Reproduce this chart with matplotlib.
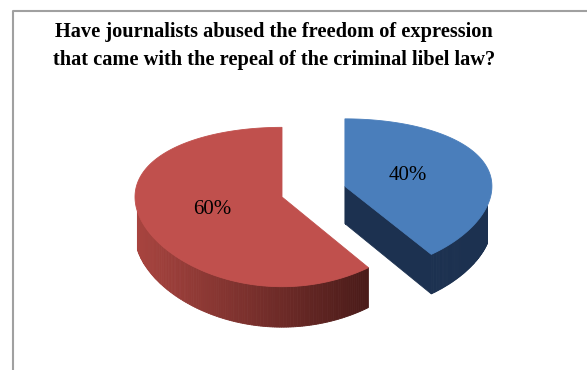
import numpy as np
import matplotlib.pyplot as plt
from matplotlib.patches import Polygon
from matplotlib.colors import to_rgb

# survey answers (share of respondents, %)
values = [40, 60]
top_colors = ['#4a7ebb', '#c0504d']
side_light = ['#1c3150', '#a8443f']
side_dark = ['#1c3150', '#4a1b19']
cut_colors = ['#1c3150', '#8e3835']
explode = [0.45, 0.0]
label_radius = [0.45, 0.5]

title_lines = [
    'Have journalists abused the freedom of expression',
    'that came with the repeal of the criminal libel law?',
]

W, H = 587, 370
fig = plt.figure(figsize=(W / 100, H / 100), dpi=100)
ax = fig.add_axes([0, 0, 1, 1])
ax.set_xlim(0, W)
ax.set_ylim(H, 0)
ax.axis('off')

# chart area border (left and top edges)
ax.plot([13, 13, W], [H, 11, 11], color='#a0a0a0', lw=1.5, solid_capstyle='butt')

# camera for the 3-D pie: perspective applied to the vertical axis only
R = 147.0
phi = np.radians(33.5)
D = 6.8
h = 0.30
cx, apex_y = 282.0, 197.0
y0 = apex_y + R * h * np.cos(phi) * D / (D - h * np.sin(phi))
cam = np.array([0.0, D * np.sin(phi), D * np.cos(phi)])


def project(p):
    x, y, z = p
    up = y * np.cos(phi) - z * np.sin(phi)
    w = y * np.sin(phi) + z * np.cos(phi)
    s = D / (D - w)
    return cx + R * x, y0 - R * up * s


def rim(t, y, off):
    t = np.radians(t)
    return off + np.array([np.sin(t), y, -np.cos(t)])


def depth(p):
    return p[1] * np.sin(phi) + p[2] * np.cos(phi)


total = sum(values)
bounds = np.concatenate([[0], np.cumsum(values) / total * 360])

faces = []
tops = []
for i, v in enumerate(values):
    a, b = bounds[i], bounds[i + 1]
    mid = np.radians((a + b) / 2)
    off = explode[i] * np.array([np.sin(mid), 0.0, -np.cos(mid)])
    ts = np.linspace(a, b, 240)

    apex_t = off + np.array([0, h, 0])
    apex_b = off.copy()
    top = [project(apex_t)] + [project(rim(t, h, off)) for t in ts]
    tops.append((top, top_colors[i]))

    # outer wall, split into thin strips
    strips = []
    for t1, t2 in zip(ts[:-1], ts[1:]):
        tm = np.radians((t1 + t2) / 2)
        n = np.array([np.sin(tm), 0, -np.cos(tm)])
        p = off + np.array([np.sin(tm), h / 2, -np.cos(tm)])
        if n @ (cam - p) <= 0:
            continue
        pts = [project(rim(t1, h, off)), project(rim(t2, h, off)),
               project(rim(t2, 0, off)), project(rim(t1, 0, off))]
        strips.append((depth(p), pts))
    if strips:
        xs = [np.mean([q[0] for q in s[1]]) for s in strips]
        x0, x1 = min(xs), max(xs)
        c0, c1 = np.array(to_rgb(side_light[i])), np.array(to_rgb(side_dark[i]))
        for (d, pts), xm in zip(strips, xs):
            f = (xm - x0) / (x1 - x0) if x1 > x0 else 0
            faces.append((d, pts, tuple(c0 + (c1 - c0) * f)))

    # radial cut faces
    for ang, sign in ((a, -1), (b, 1)):
        ar = np.radians(ang)
        n = sign * np.array([np.cos(ar), 0, np.sin(ar)])
        p = off + 0.5 * np.array([np.sin(ar), h, -np.cos(ar)])
        if n @ (cam - p) <= 0:
            continue
        pts = [project(apex_t), project(rim(ang, h, off)),
               project(rim(ang, 0, off)), project(apex_b)]
        faces.append((depth(p), pts, cut_colors[i]))

for d, pts, col in sorted(faces, key=lambda f: f[0]):
    ax.add_patch(Polygon(pts, closed=True, facecolor=col, edgecolor=col, lw=0.6))
for pts, col in tops:
    ax.add_patch(Polygon(pts, closed=True, facecolor=col, edgecolor=col, lw=0.6))

# percentage labels on the slice tops
for i, v in enumerate(values):
    a, b = bounds[i], bounds[i + 1]
    mid = np.radians((a + b) / 2)
    off = explode[i] * np.array([np.sin(mid), 0.0, -np.cos(mid)])
    r = label_radius[i]
    lx, ly = project(off + np.array([r * np.sin(mid), h, -r * np.cos(mid)]))
    ax.text(lx, ly, f'{v}%', ha='center', va='center', fontsize=15,
            family='Liberation Serif', color='black')

for k, line in enumerate(title_lines):
    ax.text(274, 37 + 28 * k, line, ha='center', va='baseline', fontsize=14.7,
            fontweight='bold', family='Liberation Serif', color='black')

fig.savefig('out.png', dpi=100)
